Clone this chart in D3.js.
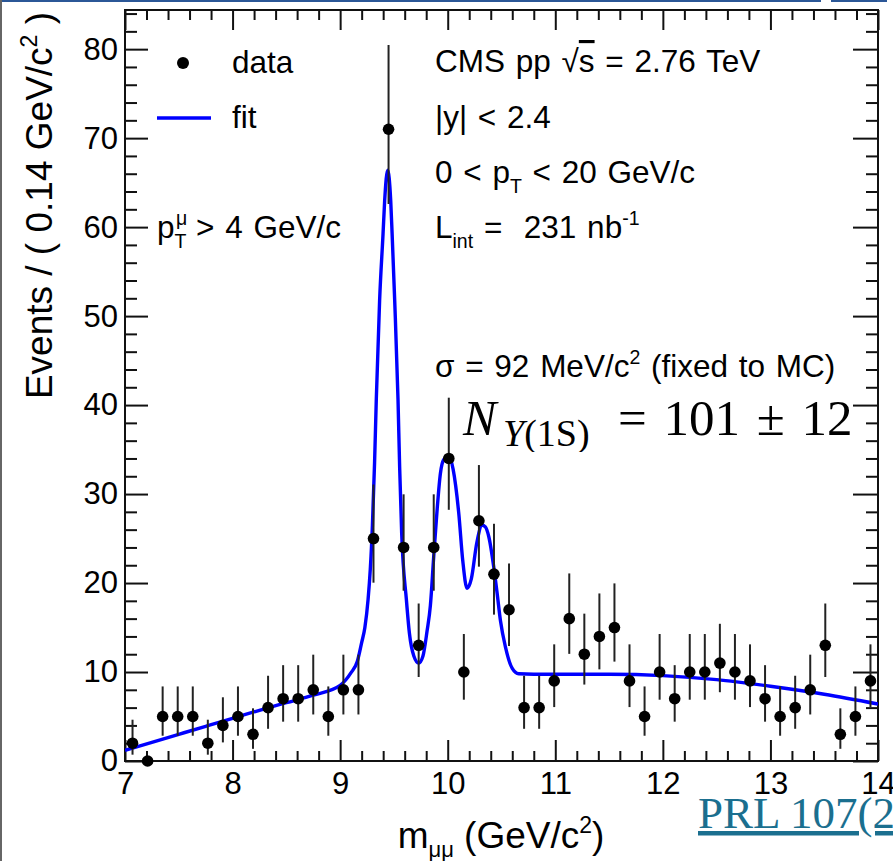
<!DOCTYPE html>
<html>
<head>
<meta charset="utf-8">
<style>
    body { margin:0; background:#ffffff; }
    svg { display:block; }
    text { font-family:"Liberation Sans", Arial, sans-serif; fill:#000; }
</style>
<script src="https://d3js.org/d3.v7.min.js"></script>
</head>
<body>
<svg id="plot"></svg>
<script>
    // dimuon mass bins (bin centres, GeV/c^2) and counts per 0.14 GeV bin
    var massBins = [7.07,7.21,7.35,7.49,7.63,7.77,7.91,8.05,8.19,8.33,
                    8.47,8.61,8.75,8.89,9.03,9.17,9.31,9.45,9.59,9.73,
                    9.87,10.01,10.15,10.29,10.43,10.57,10.71,10.85,10.99,11.13,
                    11.27,11.41,11.55,11.69,11.83,11.97,12.11,12.25,12.39,12.53,
                    12.67,12.81,12.95,13.09,13.23,13.37,13.51,13.65,13.79,13.93];
    var counts = [2,0,5,5,5,2,4,5,3,6,
                  7,7,8,5,8,8,25,71,24,13,
                  24,34,10,27,21,17,6,6,9,16,
                  12,14,15,9,5,10,7,10,10,11,
                  10,9,7,5,6,8,13,3,5,9];

    // Poisson error bar ends read for each count value [low, high]
    var errorEnds = {
        0:[0,0], 2:[0.71,4.64], 3:[1.37,5.92], 4:[2.09,7.16], 5:[2.84,8.38],
        6:[3.62,9.58], 7:[4.42,10.77], 8:[5.23,11.95], 9:[6.06,13.11],
        10:[6.89,14.27], 11:[7.73,15.42], 12:[8.59,16.56], 13:[9.44,17.70],
        14:[10.30,18.83], 15:[11.17,19.96], 16:[12.04,21.08], 17:[12.92,22.20],
        21:[16.45,26.66], 24:[19.14,29.97], 25:[20.04,31.07], 27:[21.84,33.26],
        34:[28.23,40.83], 71:[62.60,80.47]
    };

    // fit curve
    var fitMass = [7.00,7.25,7.50,7.75,8.00,8.25,8.50,8.75,9.00,9.10,
                   9.16,9.20,9.23,9.26,9.28,9.30,9.32,9.336,9.367,9.399,
                   9.414,9.442,9.470,9.483,9.507,9.538,9.553,9.572,9.616,9.644,
                   9.685,9.73,9.77,9.808,9.839,9.870,9.90,9.932,9.96,10.01,
                   10.05,10.103,10.14,10.18,10.22,10.27,10.32,10.35,10.382,10.428,
                   10.46,10.49,10.537,10.60,10.66,10.80,11.00,11.50,12.00,12.50,
                   13.00,13.50,14.00];
    var fitValue = [1.2,2.1,3.0,3.9,4.8,5.7,6.55,7.4,8.5,9.9,
                    11.2,13.3,15.0,18.2,21.5,26.5,33.5,40.6,51.8,59.3,
                    63.0,66.4,63.0,59.3,51.8,40.6,33.1,25.6,18.1,14.35,
                    11.8,11.0,11.8,14.6,17.5,23.0,28.0,32.3,33.8,34.3,
                    32.8,27.8,22.5,19.4,20.5,24.5,26.5,26.3,25.2,21.8,
                    18.8,15.8,12.8,10.4,9.8,9.75,9.75,9.75,9.6,9.15,
                    8.4,7.5,6.4];

    var xTickValues = [7,8,9,10,11,12,13,14];
    var yTickValues = [0,10,20,30,40,50,60,70,80];

    var screen = {width:893,height:861};
    var box = {left:125,right:878,top:10,bottom:761};

    var svg = d3.select("#plot")
        .attr("width",screen.width)
        .attr("height",screen.height);

    var xScale = d3.scaleLinear()
        .domain([7,14])
        .range([box.left,box.right]);
    var yScale = d3.scaleLinear()
        .domain([0,84.4])
        .range([box.bottom,box.top]);

    // slide decorations around the picture
    svg.append("rect").attr("x",0).attr("y",0).attr("width",821).attr("height",2).attr("fill","#2b5797");
    svg.append("rect").attr("x",831).attr("y",0).attr("width",56).attr("height",2).attr("fill","#2b5797");
    svg.append("rect").attr("x",0).attr("y",0).attr("width",2).attr("height",screen.height).attr("fill","#666");

    // ---- axes with inward ticks ----
    var xMinor = xScale.ticks(35).filter(function(v){ return Math.abs(v-Math.round(v))>1e-6; });
    var yMinor = d3.range(0,85,2).filter(function(v){ return v%10!=0; });

    var addAxis = function(axis,tx,ty)
    {
        var g = svg.append("g")
            .attr("transform","translate("+tx+","+ty+")")
            .call(axis);
        g.select(".domain").remove();
        g.selectAll("line").attr("stroke","#111").attr("stroke-width",2);
        g.selectAll("text").style("font-size","31px").style("font-family","'Liberation Sans', Arial, sans-serif").attr("fill","#000");
        return g;
    }

    addAxis(d3.axisBottom(xScale).tickValues(xTickValues).tickSizeInner(-21).tickSizeOuter(0).tickPadding(11).tickFormat(d3.format("d")),0,box.bottom);
    addAxis(d3.axisBottom(xScale).tickValues(xMinor).tickSizeInner(-10).tickSizeOuter(0).tickFormat(""),0,box.bottom);
    addAxis(d3.axisTop(xScale).tickValues(xTickValues).tickSizeInner(-20).tickSizeOuter(0).tickFormat(""),0,box.top);
    addAxis(d3.axisTop(xScale).tickValues(xMinor).tickSizeInner(-10).tickSizeOuter(0).tickFormat(""),0,box.top);

    addAxis(d3.axisLeft(yScale).tickValues(yTickValues).tickSizeInner(-23).tickSizeOuter(0).tickPadding(7).tickFormat(d3.format("d")),box.left,0);
    addAxis(d3.axisLeft(yScale).tickValues(yMinor).tickSizeInner(-12).tickSizeOuter(0).tickFormat(""),box.left,0);
    addAxis(d3.axisRight(yScale).tickValues(yTickValues).tickSizeInner(-25).tickSizeOuter(0).tickFormat(""),box.right,0);
    addAxis(d3.axisRight(yScale).tickValues(yMinor).tickSizeInner(-12).tickSizeOuter(0).tickFormat(""),box.right,0);

    svg.append("rect")
        .attr("x",box.left).attr("y",box.top)
        .attr("width",box.right-box.left).attr("height",box.bottom-box.top)
        .attr("fill","none").attr("stroke","#111").attr("stroke-width",2);

    // ---- fit curve ----
    svg.append("clipPath").attr("id","frame")
        .append("rect")
        .attr("x",box.left).attr("y",box.top)
        .attr("width",box.right-box.left).attr("height",box.bottom-box.top);

    var fitPoints = fitMass.map(function(m,i){ return [m,fitValue[i]]; });
    var fitLine = d3.line()
        .x(function(d){ return xScale(d[0]); })
        .y(function(d){ return yScale(d[1]); })
        .curve(d3.curveMonotoneX);

    svg.append("path")
        .datum(fitPoints)
        .attr("clip-path","url(#frame)")
        .attr("d",fitLine)
        .attr("fill","none")
        .attr("stroke","#0000ff")
        .attr("stroke-width",3.4);

    // ---- data points with error bars ----
    var points = massBins.map(function(m,i){ return {mass:m,n:counts[i]}; });

    svg.append("g").selectAll("line")
        .data(points.filter(function(d){ return d.n>0; }))
        .enter()
        .append("line")
        .attr("x1",function(d){ return xScale(d.mass); })
        .attr("x2",function(d){ return xScale(d.mass); })
        .attr("y1",function(d){ return yScale(errorEnds[d.n][0]); })
        .attr("y2",function(d){ return yScale(errorEnds[d.n][1]); })
        .attr("stroke","#222")
        .attr("stroke-width",2);

    svg.append("g").selectAll("circle")
        .data(points)
        .enter()
        .append("circle")
        .attr("cx",function(d){ return xScale(d.mass); })
        .attr("cy",function(d){ return yScale(d.n); })
        .attr("r",5.8)
        .attr("fill","#000");

    // ---- text helpers ----
    var rich = function(x,y,size,parts,family)
    {
        var t = svg.append("text")
            .attr("x",x).attr("y",y)
            .attr("xml:space","preserve")
            .style("font-size",size+"px")
            .style("word-spacing","2px");
        if(family) t.style("font-family",family);
        var shift = 0;
        parts.forEach(function(p)
        {
            var target = p.sub ? size*0.32 : (p.sup ? -size*0.42 : 0);
            var s = t.append("tspan")
                .attr("dy",target-shift)
                .style("font-size",((p.sub||p.sup) ? size*0.62 : size)+"px")
                .text(p.t);
            if(p.x!==undefined) s.attr("x",p.x);
            if(p.italic) s.style("font-style","italic");
            if(p.over) s.style("text-decoration","overline");
            shift = target;
        });
        return t;
    }

    // legend
    svg.append("circle").attr("cx",183).attr("cy",63).attr("r",6).attr("fill","#000");
    svg.append("line").attr("x1",157).attr("x2",211).attr("y1",118).attr("y2",118)
        .attr("stroke","#0000ff").attr("stroke-width",3.4);
    rich(232,73,31.5,[{t:"data"}]);
    rich(232,128,31.5,[{t:"fit"}]);

    // muon pT cut
    rich(157,238,31.5,[{t:"p"},{t:"T",sub:true}]);
    rich(176,238,31.5,[{t:"\u03bc",sup:true}]);
    rich(196,238,31.5,[{t:"> 4 GeV/c"}]);

    // right-hand labels
    rich(435,72,31.5,[{t:"CMS pp \u221a"},{t:"s",over:true},{t:" = 2.76 TeV"}]);
    rich(435,128,31.5,[{t:"|y| < 2.4"}]);
    rich(435,183,31.5,[{t:"0 < p"},{t:"T",sub:true},{t:" < 20 GeV/c"}]);
    rich(435,238,31.5,[{t:"L"},{t:"int",sub:true},{t:" =  231 nb"},{t:"-1",sup:true}]);
    rich(435,377,31.5,[{t:"\u03c3 = 92 MeV/c"},{t:"2",sup:true},{t:" (fixed to MC)"}]);

    // yield in serif maths
    svg.append("clipPath").attr("id","yieldClip")
        .append("rect").attr("x",455).attr("y",380).attr("width",420).attr("height",72);
    var serif = "'Liberation Serif', 'Times New Roman', serif";
    var yieldText = svg.append("text")
        .attr("clip-path","url(#yieldClip)")
        .attr("y",435)
        .attr("xml:space","preserve")
        .style("font-family",serif);
    yieldText.append("tspan").attr("x",463).style("font-size","50px").style("font-style","italic").text("N");
    yieldText.append("tspan").attr("x",503).attr("dy",11).style("font-size","38px").style("font-style","italic").text("\u03a5");
    yieldText.append("tspan").style("font-size","38px").text("(1S)");
    yieldText.append("tspan").attr("x",618).attr("dy",-11).style("font-size","51px").style("word-spacing","4px").text("= 101 \u00b1 12");

    // axis titles
    svg.append("text")
        .attr("transform","translate(52,12) rotate(-90)")
        .attr("text-anchor","end")
        .style("font-size","37px")
        .call(function(t)
        {
            t.append("tspan").text("Events / ( 0.14 GeV/c");
            t.append("tspan").attr("dy",-15).style("font-size","23px").text("2");
            t.append("tspan").attr("dy",15).text(" )");
        });

    svg.append("text")
        .attr("x",501).attr("y",848)
        .attr("text-anchor","middle")
        .style("font-size","37px")
        .call(function(t)
        {
            t.append("tspan").text("m");
            t.append("tspan").attr("dy",9).style("font-size","22px").text("\u03bc\u03bc");
            t.append("tspan").attr("dy",-9).text(" (GeV/c");
            t.append("tspan").attr("dy",-15).style("font-size","23px").text("2");
            t.append("tspan").attr("dy",15).text(")");
        });

    // reference link
    svg.append("text")
        .attr("x",698).attr("y",828)
        .style("font-family",serif)
        .style("font-size","45px")
        .style("fill","#1b6f8f")
        .style("text-decoration","underline")
        .text("PRL 107(2011) 052302");
</script>
</body>
</html>
